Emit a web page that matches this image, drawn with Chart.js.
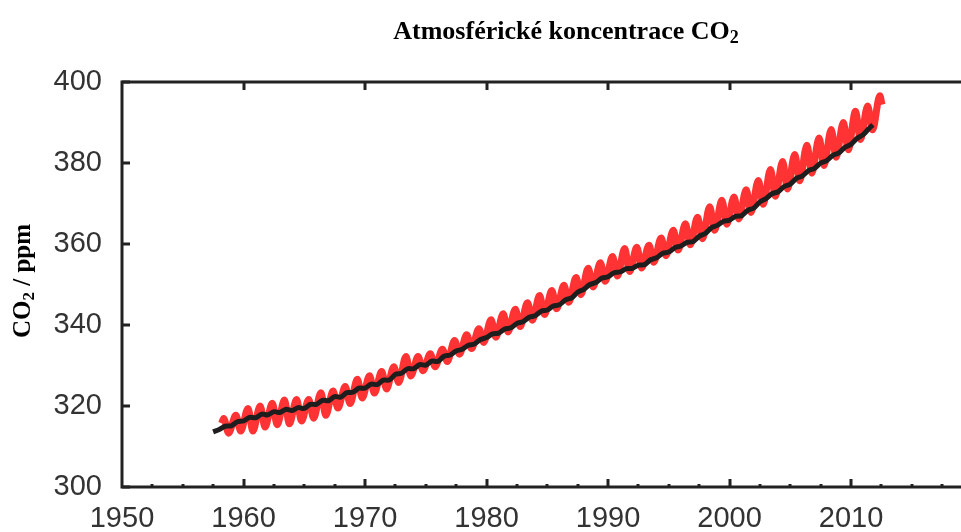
<!DOCTYPE html>
<html>
<head>
<meta charset="utf-8">
<script src="https://cdn.jsdelivr.net/npm/chart.js@4.4.1/dist/chart.umd.min.js"></script>
<style>
  html, body { margin: 0; padding: 0; background: #fff; }
</style>
</head>
<body>
<canvas id="co2Chart" width="961" height="532"></canvas>
<script>
// Mauna Loa monthly record, reduced to the seasonal max (May) and min (Oct) of each year
const years = [1958,1959,1960,1961,1962,1963,1964,1965,1966,1967,1968,1969,1970,1971,1972,1973,1974,1975,1976,1977,
  1978,1979,1980,1981,1982,1983,1984,1985,1986,1987,1988,1989,1990,1991,1992,1993,1994,1995,1996,1997,
  1998,1999,2000,2001,2002,2003,2004,2005,2006,2007,2008,2009,2010,2011,2012];
const mayPeak = [316.9,317.7,319.4,320.0,320.7,321.5,321.6,321.6,323.3,323.7,324.8,326.6,327.5,328.5,329.7,332.2,332.2,332.9,334.0,336.2,
  337.6,339.1,341.3,342.8,343.9,345.5,347.3,348.5,349.8,351.7,354.0,355.4,356.9,358.9,359.2,359.7,361.5,363.4,365.0,366.6,
  369.2,370.8,371.6,373.4,375.7,378.4,380.4,382.1,384.4,386.2,388.3,390.0,392.8,394.1,396.6];
const octLow = [313.3,313.8,313.8,314.8,315.4,315.6,316.3,317.0,317.7,319.5,320.6,322.0,323.2,324.2,325.8,327.4,328.7,329.7,331.0,332.8,
  334.2,335.7,337.0,338.3,339.6,341.2,342.6,344.0,345.6,347.5,349.4,350.8,352.1,353.2,354.1,355.5,357.1,358.5,359.8,361.3,
  363.4,364.9,366.2,367.8,369.8,371.8,373.6,375.6,377.5,379.4,381.4,383.3,385.8,388.2];
const redStart = [1958.2, 315.7];
const redEnd = [2012.55, 394.4];

// dark curve (smoothed record)
const blackYears = [1957.5,1958,1958.5,1959,1959.5,1960,1960.5,1961,1961.5,1962,1962.5,1963,1963.5,1964,1964.5,1965,1965.5,
  1966,1966.5,1967,1967.5,1968,1968.5,1969,1969.5,1970,1970.5,1971,1971.5,1972,1972.5,1973,1973.5,1974,1974.5,
  1975,1975.5,1976,1976.5,1977,1977.5,1978,1978.5,1979,1979.5,1980,1980.5,1981,1981.5,1982,1982.5,1983,1983.5,
  1984,1984.5,1985,1985.5,1986,1986.5,1987,1987.5,1988,1988.5,1989,1989.5,1990,1990.5,1991,1991.5,1992,1992.5,
  1993,1993.5,1994,1994.5,1995,1995.5,1996,1996.5,1997,1997.5,1998,1998.5,1999,1999.5,2000,2000.5,2001,2001.5,
  2002,2002.5,2003,2003.5,2004,2004.5,2005,2005.5,2006,2006.5,2007,2007.5,2008,2008.5,2009,2009.5,2010,2010.5,
  2011,2011.5,2011.8];
const blackPpm = [313.6,314.2,315.0,315.1,316.1,316.3,317.2,317.1,318.0,317.8,318.6,318.4,319.2,318.9,319.6,319.4,320.4,
  320.4,321.4,321.3,322.3,322.2,323.3,323.4,324.4,324.4,325.4,325.3,326.4,326.4,327.8,328.1,329.2,329.2,330.2,
  330.1,331.1,331.0,332.3,332.6,333.6,334.0,335.0,335.3,336.4,336.9,337.8,338.0,339.0,339.3,340.4,340.8,341.9,
  342.3,343.4,343.7,344.7,345.0,346.2,346.7,348.1,348.8,350.0,350.5,351.6,351.9,352.9,353.1,353.9,354.0,354.8,
  354.9,356.1,356.6,357.7,358.0,359.1,359.5,360.4,360.6,361.9,362.6,364.0,364.6,365.6,365.9,366.8,367.0,368.3,
  368.9,370.4,371.2,372.4,372.9,374.2,374.8,376.2,376.8,378.1,378.7,380.0,380.6,381.9,382.5,383.9,384.6,386.1,
  387.0,388.6,389.4];

const xTickStep = 10;
const yTickStep = 20;

// build the red series: start, then May max / Oct min of every year, then last month
const redPoints = [{x: redStart[0], y: redStart[1]}];
years.forEach((yr, i) => {
  redPoints.push({x: yr + 0.37, y: mayPeak[i]});
  if (i < octLow.length) redPoints.push({x: yr + 0.77, y: octLow[i]});
});
redPoints.push({x: redEnd[0], y: redEnd[1]});
const blackPoints = blackYears.map((yr, i) => ({x: yr, y: blackPpm[i]}));

const AXIS = '#222';
const SERIF = '"Liberation Serif", "Times New Roman", serif';

// frame, inward tick marks and the two serif titles
const framePlugin = {
  id: 'frame',
  afterDatasetsDraw(chart) {
    const {ctx, chartArea: a, scales: {x, y}} = chart;
    ctx.save();
    ctx.strokeStyle = AXIS;
    ctx.lineWidth = 3;
    ctx.beginPath();
    ctx.moveTo(a.left, a.top); ctx.lineTo(a.right, a.top);
    ctx.moveTo(a.left, a.top - 1.5); ctx.lineTo(a.left, a.bottom);
    ctx.moveTo(a.left - 1.5, a.bottom); ctx.lineTo(a.right, a.bottom);
    ctx.stroke();

    ctx.beginPath();
    for (let v = x.min + 2.5; v <= x.max; v += 2.5) {
      const px = Math.round(x.getPixelForValue(v));
      const major = v % 10 === 0;
      ctx.moveTo(px, a.bottom); ctx.lineTo(px, a.bottom - (major ? 8 : 3));
      if (major) { ctx.moveTo(px, a.top); ctx.lineTo(px, a.top + 8); }
    }
    y.ticks.forEach(t => {
      const py = Math.round(y.getPixelForValue(t.value));
      ctx.moveTo(a.left, py); ctx.lineTo(a.left + 8, py);
    });
    ctx.stroke();

    // chart title
    ctx.fillStyle = '#000';
    ctx.textBaseline = 'alphabetic';
    ctx.textAlign = 'left';
    let big = 'bold 26px ' + SERIF, small = 'bold 18px ' + SERIF;
    ctx.font = big;
    const t1 = 'Atmosférické koncentrace CO';
    const w1 = ctx.measureText(t1).width;
    ctx.font = small;
    const w2 = ctx.measureText('2').width;
    let sx = 566 - (w1 + w2) / 2;
    ctx.font = big; ctx.fillText(t1, sx, 39);
    ctx.font = small; ctx.fillText('2', sx + w1, 43);

    // y axis title, rotated
    big = 'bold 25px ' + SERIF; small = 'bold 17px ' + SERIF;
    ctx.save();
    ctx.translate(30, 281);
    ctx.rotate(-Math.PI / 2);
    ctx.font = big;
    const a1 = ctx.measureText('CO').width, a3 = ctx.measureText(' / ppm').width;
    ctx.font = small;
    const a2 = ctx.measureText('2').width;
    sx = -(a1 + a2 + a3) / 2;
    ctx.font = big; ctx.fillText('CO', sx, 0);
    ctx.font = small; ctx.fillText('2', sx + a1, 4);
    ctx.font = big; ctx.fillText(' / ppm', sx + a1 + a2, 0);
    ctx.restore();
    ctx.restore();
  }
};

new Chart(document.getElementById('co2Chart'), {
  type: 'line',
  data: {
    datasets: [
      {
        label: 'trend',
        data: blackPoints,
        borderColor: '#1e1e1e',
        borderWidth: 5,
        pointRadius: 0,
        tension: 0.3,
        order: 0
      },
      {
        label: 'Mauna Loa',
        data: redPoints,
        borderColor: '#ff3333',
        borderWidth: 7,
        pointRadius: 0,
        cubicInterpolationMode: 'monotone',
        order: 1
      }
    ]
  },
  options: {
    responsive: false,
    animation: false,
    devicePixelRatio: 1,
    layout: { padding: { top: 82, left: 0, right: 0, bottom: 0 } },
    plugins: { legend: { display: false }, tooltip: { enabled: false } },
    scales: {
      x: {
        type: 'linear',
        min: 1950,
        max: 2019.05,
        grid: { display: false, drawTicks: false },
        border: { display: false },
        ticks: {
          stepSize: xTickStep,
          includeBounds: false,
          padding: 15,
          maxRotation: 0,
          color: '#333',
          font: { family: '"Liberation Sans", Arial, sans-serif', size: 29 },
          callback: v => String(v)
        },
        afterFit: s => { s.height = 45; }
      },
      y: {
        min: 300,
        max: 400,
        grid: { display: false, drawTicks: false },
        border: { display: false },
        ticks: {
          stepSize: yTickStep,
          padding: 20,
          color: '#333',
          font: { family: '"Liberation Sans", Arial, sans-serif', size: 29 },
          callback: v => String(v)
        },
        afterFit: s => { s.width = 122; }
      }
    }
  },
  plugins: [framePlugin]
});
</script>
</body>
</html>
